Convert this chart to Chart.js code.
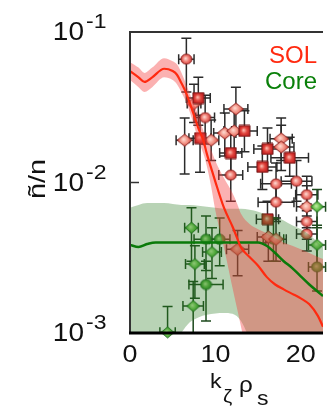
<!DOCTYPE html>
<html>
<head>
<meta charset="utf-8">
<script src="https://cdn.jsdelivr.net/npm/chart.js@4.4.0/dist/chart.umd.min.js"></script>
<style>
  html, body { margin: 0; padding: 0; background: #fff; }
</style>
</head>
<body>
<canvas id="grafico" width="328" height="416"></canvas>
<script>
const ctx = document.getElementById('grafico').getContext('2d');

// Ticks de los ejes
const valoresTickX = [0, 10, 20];
const etiquetasX = ['0', '10', '20'];
const valoresTickY = [1e-1, 1e-2, 1e-3];
const exponentesY = ['-1', '-2', '-3'];
const nombresSeries = ['SOL', 'Core'];

// Curva SOL (rojo) y su banda
const solX    = [0, 1, 1.7, 2.6, 4, 5, 5.5, 6, 6.6, 7.4, 8, 8.6, 9, 9.5, 10, 11, 12, 12.6, 13, 14, 15, 16, 17, 18, 19, 20, 21, 22, 22.6];
const solY    = [0.055, 0.050, 0.0466, 0.050, 0.057, 0.055, 0.052, 0.046, 0.039, 0.029, 0.023, 0.019, 0.0155, 0.0125, 0.0101, 0.0068, 0.0051, 0.0042, 0.0037, 0.0032, 0.0028, 0.00236, 0.0021, 0.00195, 0.00182, 0.0017, 0.00155, 0.0013, 0.0011];
const solAlto = [0.063, 0.058, 0.0535, 0.058, 0.067, 0.064, 0.061, 0.054, 0.0445, 0.034, 0.028, 0.022, 0.0195, 0.0165, 0.0139, 0.0107, 0.0085, 0.0071, 0.0062, 0.0053, 0.0049, 0.0046, 0.0043, 0.0040, 0.0038, 0.0036, 0.0034, 0.0032, 0.0031];
const solBajo = [0.048, 0.043, 0.040, 0.043, 0.050, 0.048, 0.045, 0.040, 0.034, 0.025, 0.019, 0.0155, 0.0128, 0.0094, 0.0065, 0.0037, 0.0020, 0.0014, 0.0011, 0.0006, 0.0004, 0.0003, 0.0003, 0.0003, 0.0003, 0.0003, 0.0003, 0.0003, 0.0003];

// Curva Core (verde) y su banda
const coreX    = [0, 1, 2, 3, 4, 5, 6, 7, 8, 9, 10, 11, 12, 13, 14, 15, 16, 17, 18, 19, 20, 21, 22, 22.6];
const coreY    = [0.00385, 0.00373, 0.0039, 0.0040, 0.0040, 0.0040, 0.0040, 0.0040, 0.0040, 0.0040, 0.0040, 0.0040, 0.0040, 0.0040, 0.0040, 0.0040, 0.0038, 0.0034, 0.0030, 0.0027, 0.00238, 0.0021, 0.00188, 0.00176];
const coreAlto = [0.0068, 0.0071, 0.0073, 0.0073, 0.0073, 0.0072, 0.0071, 0.0071, 0.0070, 0.0069, 0.0068, 0.0067, 0.0067, 0.0067, 0.0066, 0.0064, 0.0061, 0.0059, 0.0056, 0.0052, 0.0049, 0.0045, 0.0040, 0.0037];
const coreBajo = [0.0007, 0.0007, 0.0007, 0.0007, 0.0007, 0.0008, 0.0010, 0.00118, 0.00127, 0.00132, 0.00135, 0.00136, 0.00134, 0.00120, 0.0009, 0.0006, 0.0005, 0.0005, 0.0005, 0.0005, 0.0005, 0.0005, 0.0005, 0.0005];

// Mediciones SOL: circulos
const solCirX  = [6.6, 8.8, 11.8, 17.1, 19.5, 17.1, 20.7, 20.7, 20.7];
const solCirY  = [0.066, 0.027, 0.0112, 0.0098, 0.0102, 0.0074, 0.0083, 0.0055, 0.00455];
const solCirEx = [0.9, 1.1, 1.4, 1.8, 1.8, 2.1, 1.3, 1.2, 1.2];
const solCirLo = [0.040, 0.018, 0.0075, 0.0072, 0.0075, 0.0055, 0.0065, 0.0042, 0.0035];
const solCirHi = [0.091, 0.038, 0.016, 0.0135, 0.014, 0.0098, 0.011, 0.0072, 0.0060];

// Mediciones SOL: rombos
const solRomX  = [7.5, 6.4, 9.5, 12.4, 11.1, 12.2, 17.7, 17.7, 20.7, 16.2, 17.1, 12.6];
const solRomY  = [0.0335, 0.0191, 0.0191, 0.0308, 0.0213, 0.0220, 0.0195, 0.0172, 0.0069, 0.00435, 0.0042, 0.0036];
const solRomEx = [0.8, 1.0, 0.9, 1.4, 1.3, 1.2, 1.3, 1.5, 1.2, 1.3, 1.2, 1.3];
const solRomLo = [0.025, 0.0114, 0.014, 0.021, 0.015, 0.016, 0.014, 0.012, 0.0050, 0.0030, 0.0030, 0.0024];
const solRomHi = [0.045, 0.0268, 0.026, 0.043, 0.029, 0.030, 0.0268, 0.024, 0.0095, 0.0060, 0.0058, 0.0048];

// Mediciones SOL: cuadrados
const solCuaX  = [8.0, 8.2, 13.4, 11.8, 16.1, 18.7, 15.5, 16.1];
const solCuaY  = [0.0364, 0.0197, 0.0220, 0.0157, 0.0167, 0.0146, 0.0127, 0.0057];
const solCuaEx = [1.4, 1.3, 1.5, 1.3, 1.6, 2.2, 1.7, 1.3];
const solCuaLo = [0.024, 0.0117, 0.016, 0.011, 0.012, 0.011, 0.0090, 0.0040];
const solCuaHi = [0.050, 0.028, 0.030, 0.022, 0.023, 0.020, 0.0175, 0.0075];

// Mediciones Core: rombos
const coreRomX  = [7.2, 9.6, 7.6, 7.4, 4.4, 21.9, 21.9];
const coreRomY  = [0.0050, 0.00345, 0.00287, 0.00151, 0.00101, 0.0069, 0.00385];
const coreRomEx = [0.8, 1.1, 1.1, 1.2, 0.9, 1.0, 1.0];
const coreRomLo = [0.0030, 0.0023, 0.0017, 0.0010, 0.0006, 0.0050, 0.0028];
const coreRomHi = [0.0068, 0.0050, 0.0038, 0.0022, 0.0015, 0.0090, 0.0052];

// Mediciones Core: circulos
const coreCirX  = [8.9, 10.5, 8.9, 21.9, 16.8];
const coreCirY  = [0.0042, 0.0042, 0.0021, 0.00275, 0.0042];
const coreCirEx = [1.4, 1.2, 2.0, 1.0, 1.2];
const coreCirLo = [0.0026, 0.0028, 0.0012, 0.0019, 0.0030];
const coreCirHi = [0.0060, 0.0058, 0.0030, 0.0038, 0.0058];

const puntos = (xs, ys) => xs.map((x, i) => ({ x: x, y: ys[i] }));

// Marcadores con brillo (imagen para pointStyle)
function marcador(forma, claro, medio, oscuro, borde, w, h) {
  const c = document.createElement('canvas');
  c.width = w + 2; c.height = h + 2;
  const g = c.getContext('2d');
  const cx = c.width / 2, cy = c.height / 2;
  const grad = g.createRadialGradient(cx - w * 0.08, cy - h * 0.08, 0, cx, cy, Math.max(w, h) / 2);
  grad.addColorStop(0, claro);
  grad.addColorStop(0.55, medio);
  grad.addColorStop(1, oscuro);
  g.beginPath();
  if (forma === 'circulo') {
    g.ellipse(cx, cy, w / 2, h / 2, 0, 0, Math.PI * 2);
  } else if (forma === 'rombo') {
    g.moveTo(cx, cy - h / 2); g.lineTo(cx + w / 2, cy); g.lineTo(cx, cy + h / 2); g.lineTo(cx - w / 2, cy); g.closePath();
  } else {
    g.rect(cx - w / 2, cy - h / 2, w, h);
  }
  g.fillStyle = grad;
  g.fill();
  g.lineWidth = 1;
  g.strokeStyle = borde;
  g.stroke();
  return c;
}

const mSolCir = marcador('circulo', '#ffe2da', '#ee7d74', '#d23a36', '#8a2220', 11, 10);
const mSolRom = marcador('rombo', '#ffe0d6', '#f08a7c', '#d8463c', '#8a2220', 15, 12);
const mSolCua = marcador('cuadrado', '#ffc8bc', '#e2463e', '#c42222', '#6e1616', 11, 11);
const mCoreRom = marcador('rombo', '#c8f0a8', '#66c04a', '#2e9226', '#1e6a1e', 13, 11);
const mCoreCir = marcador('circulo', '#c0eaa0', '#5cb244', '#2a8a24', '#1e6a1e', 11, 10);

const grupos = [
  { x: solCirX, y: solCirY, ex: solCirEx, lo: solCirLo, hi: solCirHi, color: '#2b2b2b' },
  { x: solRomX, y: solRomY, ex: solRomEx, lo: solRomLo, hi: solRomHi, color: '#2b2b2b' },
  { x: solCuaX, y: solCuaY, ex: solCuaEx, lo: solCuaLo, hi: solCuaHi, color: '#2b2b2b' },
  { x: coreRomX, y: coreRomY, ex: coreRomEx, lo: coreRomLo, hi: coreRomHi, color: '#1d4a1d' },
  { x: coreCirX, y: coreCirY, ex: coreCirEx, lo: coreCirLo, hi: coreCirHi, color: '#1d4a1d' }
];

// Barras de error (antes de los datasets, quedan bajo las bandas)
const barrasError = {
  id: 'barrasError',
  beforeDatasetsDraw(chart) {
    const { ctx, chartArea, scales: { x, y } } = chart;
    ctx.save();
    ctx.beginPath();
    ctx.rect(chartArea.left, chartArea.top - 20, chartArea.right - chartArea.left + 10, chartArea.bottom - chartArea.top + 20);
    ctx.clip();
    ctx.lineWidth = 1.5;
    const cap = 5;
    grupos.forEach(gr => {
      ctx.strokeStyle = gr.color;
      gr.x.forEach((xv, i) => {
        const px = x.getPixelForValue(xv);
        const py = y.getPixelForValue(gr.y[i]);
        const x0 = x.getPixelForValue(xv - gr.ex[i]);
        const x1 = x.getPixelForValue(xv + gr.ex[i]);
        const y0 = y.getPixelForValue(gr.hi[i]);
        const y1 = y.getPixelForValue(gr.lo[i]);
        ctx.beginPath();
        ctx.moveTo(px, y0); ctx.lineTo(px, y1);
        ctx.moveTo(px - cap, y0); ctx.lineTo(px + cap, y0);
        ctx.moveTo(px - cap, y1); ctx.lineTo(px + cap, y1);
        ctx.moveTo(x0, py); ctx.lineTo(x1, py);
        ctx.moveTo(x0, py - cap); ctx.lineTo(x0, py + cap);
        ctx.moveTo(x1, py - cap); ctx.lineTo(x1, py + cap);
        ctx.stroke();
      });
    });
    ctx.restore();
  }
};

function texto(c, t, x, y, fuente, estirar, alinear) {
  c.save();
  c.font = fuente;
  c.translate(x, y);
  c.scale(estirar, 1);
  c.textAlign = alinear;
  c.textBaseline = 'alphabetic';
  c.fillText(t, 0, 0);
  c.restore();
}

// Marco, ticks, titulos y leyenda
const textos = {
  id: 'textos',
  afterDatasetsDraw(chart) {
    const { ctx, chartArea: a, scales: { x, y } } = chart;
    const familia = "'Liberation Sans', Arial, sans-serif";
    ctx.save();
    ctx.strokeStyle = '#333';
    ctx.lineWidth = 2;
    ctx.beginPath();
    ctx.moveTo(a.right, a.top); ctx.lineTo(a.left, a.top); ctx.lineTo(a.left, a.bottom);
    ctx.stroke();
    ctx.strokeStyle = '#000';
    ctx.lineWidth = 3;
    ctx.beginPath();
    ctx.moveTo(a.left - 1, a.bottom); ctx.lineTo(a.right, a.bottom);
    ctx.stroke();

    // tick interior en y
    ctx.lineWidth = 1.5;
    ctx.strokeStyle = '#333';
    valoresTickY.forEach(v => {
      const py = y.getPixelForValue(v);
      if (py > a.top + 2 && py < a.bottom - 2) {
        ctx.beginPath(); ctx.moveTo(a.left, py); ctx.lineTo(a.left + 9, py); ctx.stroke();
      }
    });

    ctx.fillStyle = '#111';
    valoresTickY.forEach((v, i) => {
      const py = y.getPixelForValue(v);
      texto(ctx, '10', 84, py + 8, '25px ' + familia, 1.12, 'right');
      texto(ctx, exponentesY[i], 86, py - 4, '20px ' + familia, 1.15, 'left');
    });
    valoresTickX.forEach((v, i) => {
      texto(ctx, etiquetasX[i], x.getPixelForValue(v), 362, '24px ' + familia, 1.12, 'center');
    });

    // titulo eje x: k_zeta rho_s
    texto(ctx, 'k', 210, 388, '21px ' + familia, 1.1, 'left');
    texto(ctx, 'ζ', 223, 402, '19px ' + familia, 1.1, 'left');
    texto(ctx, 'ρ', 239, 392, '22px ' + familia, 1.1, 'left');
    texto(ctx, 's', 257, 405, '20px ' + familia, 1.15, 'left');

    // titulo eje y
    ctx.save();
    ctx.translate(45, 179);
    ctx.rotate(-Math.PI / 2);
    ctx.scale(1.2, 1);
    ctx.font = '24px ' + familia;
    ctx.textAlign = 'center';
    ctx.fillText('ñ/n', 0, 0);
    ctx.restore();

    // leyenda
    ctx.fillStyle = '#ff2a10';
    texto(ctx, nombresSeries[0], 317, 63, '24px ' + familia, 1, 'right');
    ctx.fillStyle = '#0a800a';
    texto(ctx, nombresSeries[1], 317, 89, '24px ' + familia, 1, 'right');
    ctx.restore();
  }
};

const linea = { type: 'line', pointRadius: 0, cubicInterpolationMode: 'monotone' };

new Chart(ctx, {
  type: 'line',
  data: {
    datasets: [
      { ...linea, label: 'SOL alto', data: puntos(solX, solAlto), borderWidth: 0, fill: '+1', backgroundColor: 'rgba(245,60,60,0.4)', order: 4 },
      { ...linea, label: 'SOL bajo', data: puntos(solX, solBajo), borderWidth: 0, fill: false, order: 4 },
      { ...linea, label: 'Core alto', data: puntos(coreX, coreAlto), borderWidth: 0, fill: '+1', backgroundColor: 'rgba(40,120,30,0.33)', order: 5 },
      { ...linea, label: 'Core bajo', data: puntos(coreX, coreBajo), borderWidth: 0, fill: false, order: 5 },
      { ...linea, label: 'SOL', data: puntos(solX, solY), borderColor: '#ff2a10', borderWidth: 2.2, fill: false, order: 1 },
      { ...linea, label: 'Core', data: puntos(coreX, coreY), borderColor: '#0a7a0a', borderWidth: 2.5, fill: false, order: 2 },
      { type: 'scatter', label: 'SOL circulos', data: puntos(solCirX, solCirY), pointStyle: mSolCir, order: 10, clip: false },
      { type: 'scatter', label: 'SOL rombos', data: puntos(solRomX, solRomY), pointStyle: mSolRom, order: 11, clip: false },
      { type: 'scatter', label: 'SOL cuadrados', data: puntos(solCuaX, solCuaY), pointStyle: mSolCua, order: 9, clip: false },
      { type: 'scatter', label: 'Core rombos', data: puntos(coreRomX, coreRomY), pointStyle: mCoreRom, order: 8, clip: false },
      { type: 'scatter', label: 'Core circulos', data: puntos(coreCirX, coreCirY), pointStyle: mCoreCir, order: 12, clip: false }
    ]
  },
  options: {
    responsive: false,
    animation: false,
    layout: { padding: { left: 130, top: 32, right: 0, bottom: 83 } },
    plugins: { legend: { display: false }, tooltip: { enabled: false } },
    scales: {
      x: { type: 'linear', min: 0, max: 22.6, display: false },
      y: { type: 'logarithmic', min: 0.001, max: 0.1, display: false }
    }
  },
  plugins: [barrasError, textos]
});
</script>
</body>
</html>
